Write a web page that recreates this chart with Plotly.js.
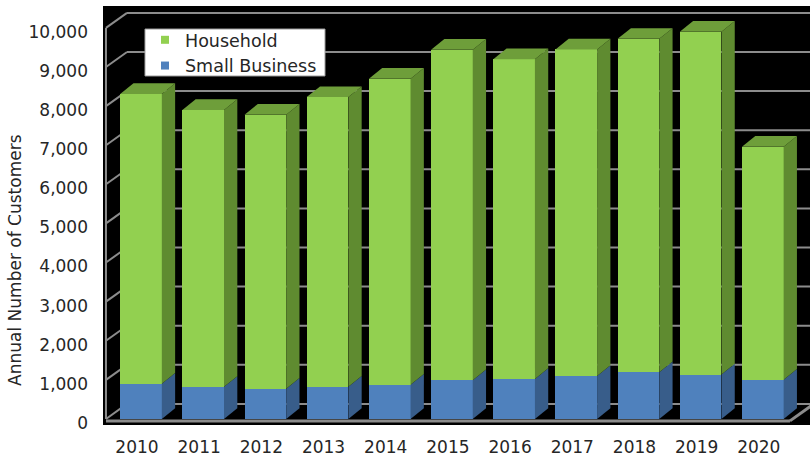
<!DOCTYPE html>
<html>
<head>
<meta charset="utf-8">
<script src="https://cdn.plot.ly/plotly-3.0.1.min.js"></script>
<style>
  html, body { margin: 0; padding: 0; background: #fff; }
</style>
</head>
<body>
<div id="chart" style="width:810px;height:458px;"></div>
<script>
// values
const years = ['2010', '2011', '2012', '2013', '2014', '2015', '2016', '2017', '2018', '2019', '2020'];
const smallBusiness = [900, 820, 775, 825, 875, 990, 1020, 1100, 1195, 1135, 1000];
const household = [7410, 7080, 7005, 7405, 7825, 8450, 8180, 8350, 8525, 8765, 5960];
const yTicks = [0, 1000, 2000, 3000, 4000, 5000, 6000, 7000, 8000, 9000, 10000];

// colours
const green = '#92D050', greenSide = '#5F8B30', greenTop = '#6E9E3A';
const blue = '#4F81BD', blueSide = '#385D8A';
const gridGray = '#8C8C8C';
const font = 'DejaVu Sans, Verdana, sans-serif';

// fake 3d depth, in axis units
const barWidth = 0.67;
const barDx = 0.214, barDy = 274;
const wallLeft = -0.563, wallDx = 0.338, wallDy = 384;
const floorRight = 10.437;

const xs = years.map((_, i) => i);
const totals = household.map((h, i) => h + smallBusiness[i]);

function poly(pts, color) {
    return {
        type: 'path', xref: 'x', yref: 'y', layer: 'above',
        path: 'M' + pts.map(p => p[0] + ',' + p[1]).join('L') + 'Z',
        fillcolor: color, line: {width: 0}
    };
}
function seg(x0, y0, x1, y1, w) {
    return {
        type: 'line', xref: 'x', yref: 'y', layer: 'below',
        x0: x0, y0: y0, x1: x1, y1: y1,
        line: {color: gridGray, width: w || 2}
    };
}

const shapes = [];
// back wall gridlines and side wall diagonals
yTicks.forEach(v => {
    shapes.push(seg(wallLeft + wallDx, v + wallDy, 11.2, v + wallDy));
    shapes.push(seg(wallLeft, v, wallLeft + wallDx, v + wallDy));
});
shapes.push(seg(wallLeft, 0, wallLeft, 10000));
// floor edge
shapes.push(seg(wallLeft, -50, floorRight, -50, 3));
shapes.push(seg(floorRight, -50, floorRight + wallDx, wallDy - 50, 3));

// side and top faces of every column
xs.forEach(i => {
    const xr = i + barWidth / 2, xl = i - barWidth / 2;
    const sb = smallBusiness[i], tot = totals[i];
    shapes.push(poly([[xr, 0], [xr + barDx, barDy], [xr + barDx, sb + barDy], [xr, sb]], blueSide));
    shapes.push(poly([[xr, sb], [xr + barDx, sb + barDy], [xr + barDx, tot + barDy], [xr, tot]], greenSide));
    shapes.push(poly([[xl, tot], [xr, tot], [xr + barDx, tot + barDy], [xl + barDx, tot + barDy]], greenTop));
});

// legend box
shapes.push({
    type: 'rect', xref: 'paper', yref: 'paper', layer: 'above',
    x0: 0.0594, x1: 0.314, y0: 0.833, y1: 0.945,
    fillcolor: '#ffffff', line: {color: '#A0A0A0', width: 1}
});

const traces = [
    {type: 'bar', name: 'Small Business', x: xs, y: smallBusiness, width: barWidth,
     marker: {color: blue, line: {width: 0}}, showlegend: false, hoverinfo: 'skip'},
    {type: 'bar', name: 'Household', x: xs, y: household, width: barWidth,
     marker: {color: green, line: {width: 0}}, showlegend: false, hoverinfo: 'skip'},
    // legend entries only
    {type: 'scatter', mode: 'markers', name: 'Household', x: [-5], y: [-5000],
     marker: {symbol: 'square', size: 8, color: green}},
    {type: 'scatter', mode: 'markers', name: 'Small Business', x: [-5], y: [-5000],
     marker: {symbol: 'square', size: 8, color: blue}}
];

const layout = {
    width: 810,
    height: 458,
    margin: {l: 103, r: 0, t: 6, b: 33},
    paper_bgcolor: '#ffffff',
    plot_bgcolor: '#000000',
    barmode: 'stack',
    showlegend: true,
    font: {family: font, size: 17, color: '#262626'},
    xaxis: {
        range: [-0.611, 10.759],
        tickvals: xs, ticktext: years,
        showgrid: false, zeroline: false, showline: false, ticks: '',
        ticklabelstandoff: 10,
        ticklabelshift: -4,
        tickfont: {family: font, size: 17, color: '#262626'}
    },
    yaxis: {
        range: [-155, 10560],
        tickvals: yTicks,
        tickformat: ',d',
        showgrid: false, zeroline: false, showline: false, ticks: '',
        ticklabelstandoff: 14,
        ticklabelshift: 4,
        tickfont: {family: font, size: 17, color: '#262626'}
    },
    legend: {
        x: 0.0594, xanchor: 'left',
        y: 0.962, yanchor: 'top',
        bgcolor: 'rgba(0,0,0,0)', borderwidth: 0,
        font: {family: font, size: 17.5, color: '#262626'},
        traceorder: 'normal'
    },
    annotations: [{
        text: 'Annual Number of Customers',
        xref: 'paper', yref: 'paper',
        x: -0.1245, y: 0.394,
        xanchor: 'center', yanchor: 'middle',
        textangle: -90, showarrow: false,
        font: {family: font, size: 17, color: '#262626'}
    }],
    shapes: shapes
};

Plotly.newPlot('chart', traces, layout, {displayModeBar: false, staticPlot: true});
</script>
</body>
</html>
